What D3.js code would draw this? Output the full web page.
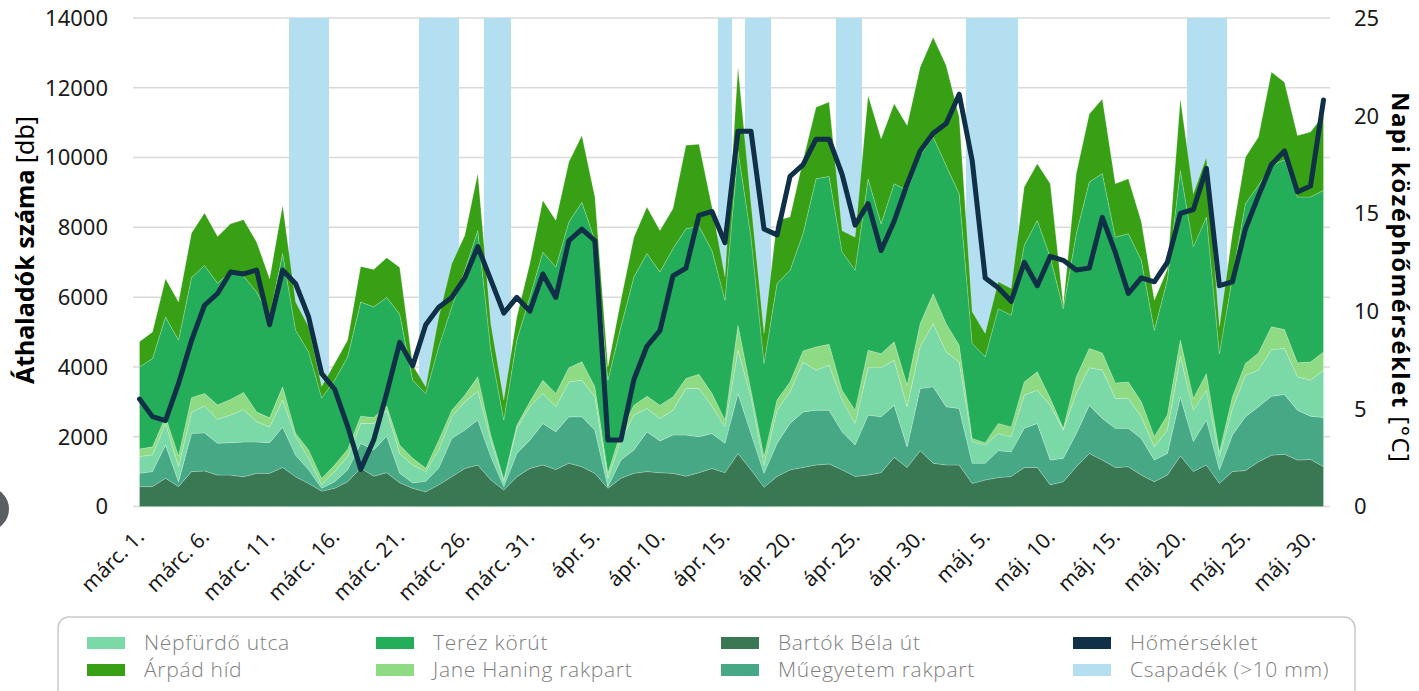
<!DOCTYPE html>
<html>
<head>
<meta charset="utf-8">
<script src="https://cdn.jsdelivr.net/npm/d3@7"></script>
<style>
  body { margin: 0; background: #fff; }
  svg { display: block; font-family: "Noto Sans", "Open Sans", sans-serif; }
</style>
</head>
<body>
<svg></svg>
<script>
// daily counts per counting station, március 1. - május 31.
var bartok = [570,570,810,570,1000,1020,900,900,850,950,950,1120,850,660,440,520,710,1100,870,970,680,520,420,620,850,1090,1190,760,470,850,1090,1190,1060,1240,1140,950,520,810,950,1000,970,950,870,970,1090,970,1520,1050,550,860,1050,1120,1190,1220,1050,860,900,970,1410,1120,1600,1240,1190,1190,660,760,830,860,1120,1120,620,710,1140,1520,1330,1120,1140,900,710,900,1450,1000,1190,660,1000,1030,1280,1470,1500,1330,1350,1140];
var muegyetem = [380,430,950,140,1100,1090,910,930,1000,900,880,1160,620,390,80,190,340,710,750,1050,270,160,300,480,1100,1100,1290,670,100,670,810,1190,1080,1330,1430,1240,50,520,670,1140,910,1100,1180,1030,1000,840,1720,1040,400,950,1330,1590,1570,1540,1090,900,1720,1600,1490,590,1780,2190,1670,1620,580,480,770,710,1120,1260,710,670,950,1380,1190,1120,1100,1050,620,620,1690,860,1290,390,1050,1540,1580,1690,1710,1430,1240,1410];
var nepfurdo = [480,480,620,440,600,770,690,790,930,580,450,770,530,330,100,290,380,570,760,740,570,510,280,520,620,810,830,470,140,720,960,860,720,1000,1050,950,240,570,1000,670,640,710,1330,1380,790,470,1240,1050,240,950,910,1430,1150,1290,910,620,1360,1410,1290,1150,1200,1810,1570,1330,620,520,490,430,950,950,1570,810,1150,1080,1390,860,860,620,380,670,1150,900,850,380,760,1190,1050,1340,1320,960,1030,1360];
var jane = [220,230,190,300,420,360,410,450,490,280,260,380,100,240,190,190,210,210,170,120,240,190,100,280,190,190,410,150,70,90,140,380,380,410,530,290,140,240,280,350,380,380,290,410,360,200,710,190,240,290,280,320,660,600,280,380,500,400,530,620,660,860,810,480,90,70,290,280,380,530,200,50,480,550,490,440,470,430,290,430,480,340,480,140,330,340,490,650,540,400,520,520];
var terez = [2350,2530,2860,3320,3440,3670,3490,3650,3330,3440,2890,3820,2950,2810,2300,2430,2650,3270,3170,3110,3750,2240,2140,2680,2960,3580,4190,2430,1700,2440,3000,3670,3620,4170,4570,4200,2670,3010,3680,4090,3820,4250,4290,4240,4100,3430,5010,4390,2670,3340,3200,3360,4820,4810,3970,4010,4910,3720,4530,5580,4820,4490,4530,4340,2720,2460,3290,3200,3920,4340,4050,3430,4100,4770,5140,4180,4250,4060,3050,3880,4860,4340,4490,2810,3440,4580,4800,4620,4870,4750,4730,4630];
var arpad = [720,760,1100,1090,1280,1500,1340,1380,1620,1430,1100,1380,810,720,330,480,480,1020,1070,1140,1340,430,190,850,1240,1000,1630,760,570,660,960,1480,1340,1720,1910,1240,380,760,1140,1330,1190,1140,2390,2350,1240,670,2390,960,860,1810,1530,2100,2050,2130,600,950,2390,2440,2290,1860,2530,2860,2870,2200,910,670,770,770,1670,1620,2100,100,1720,1950,2140,1530,1570,1100,860,300,2050,1520,1710,770,1240,1330,1390,2680,2220,1760,1860,2150];
// napi középhőmérséklet [°C]
var temperature = [5.5,4.6,4.4,6.3,8.5,10.3,10.9,12.0,11.9,12.1,9.3,12.1,11.4,9.7,6.8,6.0,4.1,1.9,3.4,5.8,8.4,7.2,9.3,10.2,10.7,11.7,13.3,11.6,9.9,10.7,10.0,11.9,10.7,13.6,14.2,13.6,3.4,3.4,6.5,8.2,9.0,11.8,12.2,14.9,15.1,13.5,19.2,19.2,14.2,13.9,16.9,17.5,18.8,18.8,17.0,14.4,15.5,13.1,14.6,16.5,18.2,19.1,19.6,21.1,17.7,11.7,11.2,10.5,12.5,11.3,12.8,12.6,12.1,12.2,14.8,13.0,10.9,11.7,11.5,12.5,15.0,15.2,17.3,11.3,11.5,14.2,15.9,17.5,18.2,16.1,16.4,20.8];
// 1 = more than 10 mm of rain that day
var rain = [0,0,0,0,0,0,0,0,0,0,0,0,1,1,1,0,0,0,0,0,0,0,1,1,1,0,0,1,1,0,0,0,0,0,0,0,0,0,0,0,0,0,0,0,0,1,0,1,1,0,0,0,0,0,1,1,0,0,0,0,0,0,0,0,1,1,1,1,0,0,0,0,0,0,0,0,0,0,0,0,0,1,1,1,0,0,0,0,0,0,0,0];

var months = ["márc.", "ápr.", "máj."];
var monthDays = [31, 30, 31];
var leftTicks = [0,2000,4000,6000,8000,10000,12000,14000];
var rightTicks = [0,5,10,15,20,25];

var seriesNames = ["Bartók Béla út","Műegyetem rakpart","Népfürdő utca","Jane Haning rakpart","Teréz körút","Árpád híd"];
var seriesColors = ["#397852","#47a886","#7ad9a6","#8edb84","#25ae5a","#37a015"];
var seriesValues = [bartok, muegyetem, nepfurdo, jane, terez, arpad];

var days = [];
months.forEach(function(m, mi){
  for(var d = 1; d <= monthDays[mi]; d++){
    days.push(m + " " + d + ".");
  }
});

var table = days.map(function(day, i){
  var row = {day: day, temp: temperature[i], rain: rain[i]};
  seriesNames.forEach(function(name, s){ row[name] = seriesValues[s][i]; });
  return row;
});

var screen = {width:1419, height:691};
var plot = {left:133, right:1330, top:18, bottom:506.5};

var svg = d3.select("svg")
            .attr("width", screen.width)
            .attr("height", screen.height);

var x = d3.scaleBand()
          .domain(days)
          .range([plot.left, plot.right])
          .padding(0);
var xc = function(d){ return x(d) + x.bandwidth()/2; };

var yLeft = d3.scaleLinear().domain([0,14000]).range([plot.bottom, plot.top]);
var yRight = d3.scaleLinear().domain([0,25]).range([plot.bottom, plot.top]);
var yRain = d3.scaleLinear().domain([0,1]).range([plot.bottom, plot.top]);

// gridlines
svg.append("g").selectAll("line")
   .data(leftTicks)
   .enter()
   .append("line")
   .attr("x1", plot.left).attr("x2", plot.right)
   .attr("y1", function(d){ return yLeft(d); })
   .attr("y2", function(d){ return yLeft(d); })
   .attr("stroke", "#d9d9d9")
   .attr("stroke-width", 1.5);

// rain columns (slightly overlapping so neighbours don't show seams)
svg.append("g").selectAll("rect")
   .data(table.filter(function(d){ return d.rain > 0; }))
   .enter()
   .append("rect")
   .attr("x", function(d){ return x(d.day); })
   .attr("width", x.bandwidth() + 0.6)
   .attr("y", function(d){ return yRain(d.rain); })
   .attr("height", function(d){ return yRain(0) - yRain(d.rain); })
   .attr("fill", "#b3dff1")
   .attr("shape-rendering", "crispEdges");

// stacked areas
var stack = d3.stack().keys(seriesNames);
var layers = stack(table);
var area = d3.area()
             .x(function(d){ return xc(d.data.day); })
             .y0(function(d){ return yLeft(d[0]); })
             .y1(function(d){ return yLeft(d[1]); });

svg.append("g").selectAll("path")
   .data(layers)
   .enter()
   .append("path")
   .attr("d", area)
   .attr("fill", function(d, i){ return seriesColors[i]; })
   .attr("stroke", "rgba(255,255,255,0.25)")
   .attr("stroke-width", 0.8);

// temperature line
var line = d3.line()
             .x(function(d){ return xc(d.day); })
             .y(function(d){ return yRight(d.temp); });
svg.append("path")
   .datum(table)
   .attr("d", line)
   .attr("fill", "none")
   .attr("stroke", "#0f3046")
   .attr("stroke-width", 5)
   .attr("stroke-linejoin", "round")
   .attr("stroke-linecap", "round");

// left axis labels
svg.append("g").selectAll("text")
   .data(leftTicks)
   .enter()
   .append("text")
   .attr("x", 108)
   .attr("y", function(d){ return yLeft(d); })
   .attr("dy", "0.36em")
   .attr("text-anchor", "end")
   .attr("font-size", 22)
   .attr("fill", "#1a1a1a")
   .text(function(d){ return d; });

// right axis labels
svg.append("g").selectAll("text")
   .data(rightTicks)
   .enter()
   .append("text")
   .attr("x", 1354)
   .attr("y", function(d){ return yRight(d); })
   .attr("dy", "0.36em")
   .attr("text-anchor", "start")
   .attr("font-size", 22)
   .attr("fill", "#1a1a1a")
   .text(function(d){ return d; });

// date labels, every 5th day
svg.append("g").selectAll("text")
   .data(days.filter(function(d, i){ return i % 5 == 0; }))
   .enter()
   .append("text")
   .attr("transform", function(d){ return "translate(" + (xc(d) + 6) + ",538) rotate(-45)"; })
   .attr("text-anchor", "end")
   .attr("font-size", 21)
   .attr("fill", "#1a1a1a")
   .text(function(d){ return d; });

// axis titles
var lt = svg.append("text")
            .attr("transform", "translate(34,250) rotate(-90)")
            .attr("text-anchor", "middle")
            .attr("font-size", 25)
            .attr("fill", "#000");
lt.append("tspan").attr("font-weight", "bold").text("Áthaladók száma");
lt.append("tspan").text(" [db]");

var rt = svg.append("text")
            .attr("transform", "translate(1392,277) rotate(90)")
            .attr("text-anchor", "middle")
            .attr("font-size", 24)
            .attr("textLength", 370)
            .attr("lengthAdjust", "spacing")
            .attr("fill", "#000");
rt.append("tspan").attr("font-weight", "bold").text("Napi középhőmérséklet");
rt.append("tspan").text(" [°C]");

// legend
svg.append("rect")
   .attr("x", 58).attr("y", 617)
   .attr("width", 1297).attr("height", 100)
   .attr("rx", 11)
   .attr("fill", "#fff")
   .attr("stroke", "#c9c9c9")
   .attr("stroke-width", 1.5);

var legendItems = [
  {name:"Népfürdő utca", color:seriesColors[2], col:0, row:0},
  {name:"Árpád híd", color:seriesColors[5], col:0, row:1},
  {name:"Teréz körút", color:seriesColors[4], col:1, row:0},
  {name:"Jane Haning rakpart", color:seriesColors[3], col:1, row:1},
  {name:"Bartók Béla út", color:seriesColors[0], col:2, row:0},
  {name:"Műegyetem rakpart", color:seriesColors[1], col:2, row:1},
  {name:"Hőmérséklet", color:"#0f3046", col:3, row:0},
  {name:"Csapadék (>10 mm)", color:"#b3dff1", col:3, row:1}
];
var legendCols = [87, 376, 721, 1073];
var legendRows = [637, 664];

var items = svg.append("g").selectAll("g")
               .data(legendItems)
               .enter()
               .append("g")
               .attr("transform", function(d){ return "translate(" + legendCols[d.col] + "," + legendRows[d.row] + ")"; });
items.append("rect")
     .attr("width", 38).attr("height", 12)
     .attr("fill", function(d){ return d.color; });
items.append("text")
     .attr("x", 57).attr("y", 13)
     .attr("font-family", "'Open Sans', 'Noto Sans', sans-serif")
     .attr("font-weight", 300)
     .attr("font-size", 21)
     .attr("letter-spacing", 0.7)
     .attr("fill", "#808080")
     .text(function(d){ return d.name; });

// stray UI button at the left edge of the screenshot
svg.append("circle")
   .attr("cx", -13).attr("cy", 509).attr("r", 22)
   .attr("fill", "#5b5f64");
</script>
</body>
</html>
